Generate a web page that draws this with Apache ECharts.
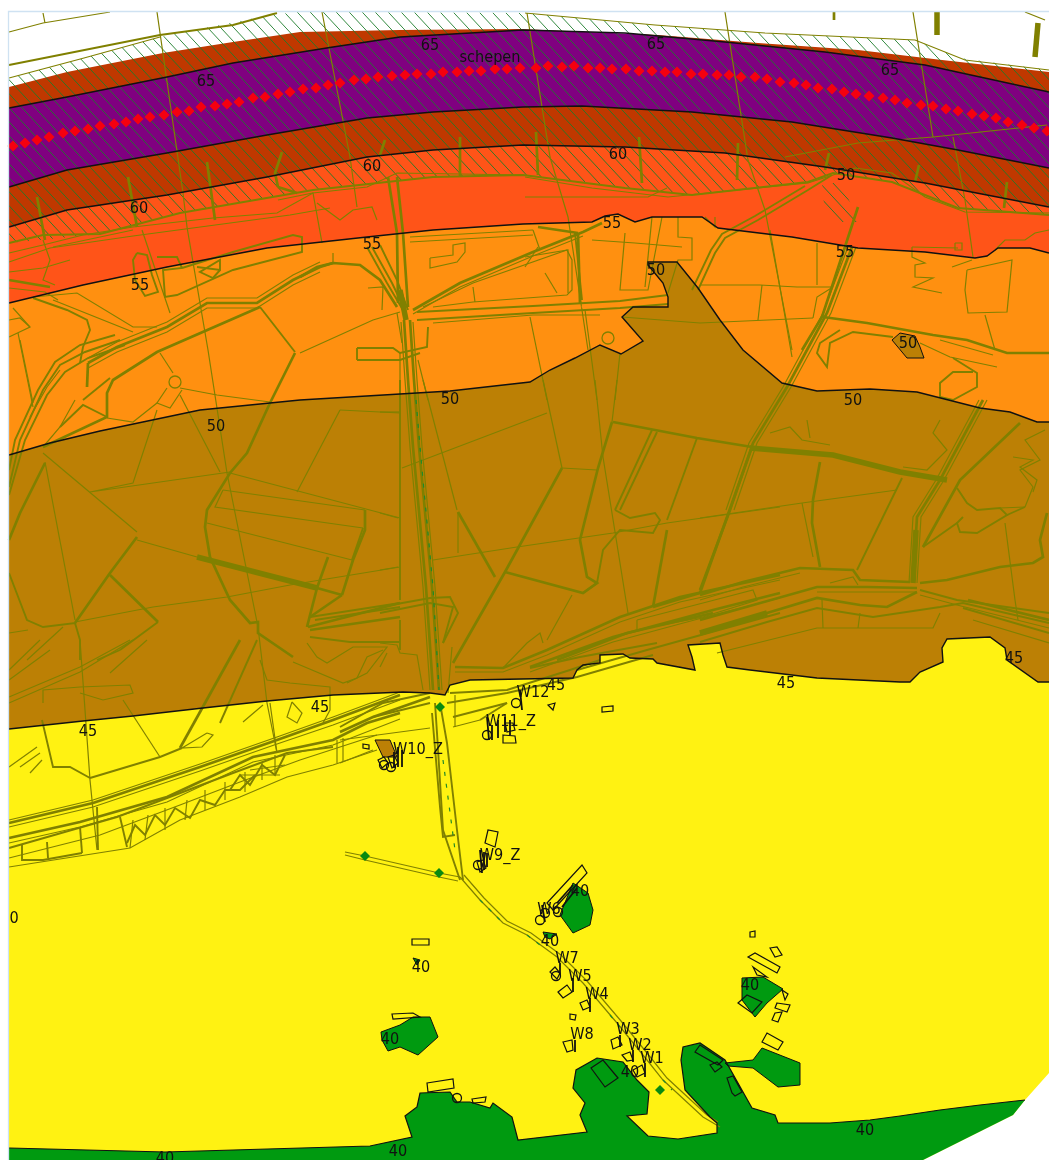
<!DOCTYPE html>
<html><head><meta charset="utf-8">
<style>html,body{margin:0;padding:0;background:#fff}#c{width:1049px;height:1160px}#c canvas{filter:blur(0.3px)}</style>
<script src="https://cdn.jsdelivr.net/npm/echarts@6/dist/echarts.min.js"></script>
</head><body><div id="c"></div>
<script>
// ---- noise contours, in map coordinates (flat x,y lists) ----
const mapFrame=[9,12,1049,12,1049,1073,1025,1100,1013,1115,983,1130,923,1160,9,1160];
const contourEdge=[9,87,67,72,163,53,233,42,300,32,400,30,520,29,658,35,758,43,858,50,942,60,1049,72];
const contour65a=[9,108,67,97,167,77,233,63,333,47,400,37,523,30,625,33,725,42,825,52,925,65,1049,92];
const contour65b=[9,187,67,170,167,153,267,135,367,118,433,112,523,107,582,106,692,112,792,122,892,138,958,150,1049,168];
const contour60=[9,227,67,210,167,195,267,177,367,157,433,150,523,145,625,147,725,153,825,167,925,183,1049,207];
const contour55=[9,303,83,285,167,267,267,248,367,237,433,230,523,224,592,222,605,216,618,214,635,222,652,217,702,217,718,228,792,237,858,248,925,252,975,258,987,256,998,248,1030,248,1049,253];
const contour50=[9,455,50,443,100,431,200,410,300,400,400,394,450,391,530,382,550,370,575,358,600,345,621,354,643,341,622,317,633,307,668,307,668,297,663,283,648,265,648,262,677,262,698,288,720,320,743,350,782,383,817,391,870,389,917,392,980,408,1010,412,1037,422,1049,422];
const contour45=[9,729,83,721,133,716,203,708,267,701,333,695,380,693,403,692,430,693,445,695,450,685,470,680,573,678,577,670,583,665,600,663,600,655,623,654,630,658,653,659,657,663,695,670,692,657,688,645,720,643,723,655,727,667,750,670,817,678,900,682,910,682,920,672,943,662,942,648,947,639,990,637,1005,648,1007,660,1038,682,1049,682];
const island50=[892,340,900,333,915,336,920,347,924,358,907,358];
const island45=[375,740,390,740,397,757,383,757];
const green40South=[9,1148,165,1152,370,1146,412,1137,405,1116,417,1107,420,1093,450,1092,457,1102,470,1102,490,1108,493,1103,512,1117,518,1140,587,1132,580,1115,585,1103,573,1088,576,1070,597,1058,623,1062,637,1080,649,1092,647,1114,627,1116,648,1136,678,1139,717,1133,717,1123,710,1117,685,1090,681,1060,683,1047,700,1043,725,1060,752,1108,775,1115,778,1123,830,1123,870,1120,900,1116,940,1110,980,1105,1025,1100,1013,1115,983,1130,923,1160,9,1160];
const green40Blobs=[
 [725,1063,753,1060,762,1048,800,1063,800,1085,778,1087,753,1068,728,1066],
 [560,915,573,883,588,893,593,910,590,925,573,933],
 [543,932,557,934,550,939,545,937],
 [413,958,420,960,417,965],
 [381,1032,400,1025,413,1017,430,1017,438,1037,418,1055,400,1047,388,1051,382,1040],
 [742,978,763,977,783,989,767,1003,755,1017,742,1000]
];
const hatchZone=[
 [9,78,84,58,160,37,270,15,300,12,525,13,655,25,765,33,915,40,960,58,1049,70,1049,215,958,208,892,182,833,173,808,182,692,195,625,188,523,175,433,177,313,190,180,213,100,234,9,243],
 [822,183,842,183,858,222,832,222,825,215]
];
// ---- shipping route ----
const shipX=[13,25,37,49,63,75,88,100,114,126,138,150,164,177,189,201,215,227,239,253,265,278,290,303,316,328,340,354,366,378,392,405,417,431,443,457,469,481,495,507,520,536,548,562,574,588,600,612,626,639,652,665,677,691,703,717,729,741,755,767,780,794,806,818,832,844,856,869,883,895,907,921,933,946,958,972,984,996,1008,1022,1034,1047];
const shipY=[146,143,140,137,133,131,129,126,124,122,119,117,115,112,111,107,106,104,102,98,97,94,92,89,88,85,83,80,79,77,76,75,74,74,72,72,71,71,69,69,68,68,66,67,66,68,68,69,69,71,71,72,72,74,74,75,75,77,77,79,82,83,85,88,89,92,94,96,98,100,103,105,106,109,111,114,116,118,122,125,128,131];
const siteX=[365,439,440,660];
const siteY=[856,873,707,1090];
// ---- road and ditch network ----
const roadsThin=[
 [9,32,43,23,110,12],[43,13,45,23],[9,78,84,58,160,37],[525,13,655,25,765,33,915,40,965,60,1049,70],
 [157,12,183,193,187,227,208,350,227,473,258,627,267,703,277,753],[322,12,350,157,357,207],[142,230,170,313],
 [725,12,748,160,765,210,792,350],[913,12,933,137],[953,137,965,200,973,257],[527,13,550,157,568,217,588,350],
 [785,157,858,143,933,137,1047,125],[278,200,313,193,322,243],[317,203,340,220,353,210,372,207,377,220],
 [43,240,50,260,43,280,55,285],[9,262,50,248,133,236,290,215,330,208],[525,177,592,188,668,197,738,190,808,183,855,168,892,173,925,197,965,212,1049,213],
 [525,197,608,197,648,197,667,188],[9,253,43,245,83,235,133,227,213,218,277,213,313,193,367,187,397,173,523,175],
 [53,247,133,230],[18,333,33,407],[13,308,30,327,9,337],[33,297,77,293,133,327,157,327],[53,300,133,332],
 [160,353,173,373],[180,388,217,395,270,402],[180,395,220,472],[167,388,157,403,170,408,182,390],[157,403,133,422,107,418],[157,410,133,483,90,492,230,472],
 [230,473,400,518],[43,453,137,532],[137,540,197,557],[223,490,215,507,363,528],[223,490,365,510],[207,523,352,560],[340,410,297,492],[340,410,400,413],
 [45,462,75,620],[75,622,153,607,227,597,290,585,400,567],[9,633,28,630],[27,660,63,627],[20,340,33,403],[80,640,90,780,97,850],[123,700,160,757],[270,703,277,753],
 [292,702,302,713,297,723,287,717,292,702],[243,722,263,705,250,716,243,722],[207,733,213,735,202,747,182,748,207,733],
 [9,767,37,747],[20,767,40,753],[30,773,42,760],[9,867,130,848,180,820,240,797,287,777,333,765,377,750],[337,740,337,763],[343,738,343,762],
 [340,740,430,728],[340,763,373,750],[453,727,480,720],[455,695,455,727],
 [260,660,267,680,290,683,330,687,330,710,323,723],[293,662,343,683,357,678,367,657,383,650],
 [333,253,333,263],[368,288,383,287,382,310],[300,353,373,320,400,312],[397,313,402,343],[400,353,400,400],[418,360,428,400],[530,317,547,400],[585,310,597,400],[620,353,615,400],
 [430,258,453,255,453,245,465,243,465,252,457,262,430,268,430,258],[433,323,533,315,600,315],[423,307,473,283,567,250,572,260,572,290,567,295,473,302,433,307],[473,287,475,302],[540,250,533,230],[410,237,533,230],[410,242,533,235],
 [625,233,620,290,648,290,662,217],[652,217,645,287],[678,217,678,237,692,238,692,260,678,260,668,293],[635,243,682,247],[592,240,635,243],[705,217,715,227,715,217],[525,267,538,247],[525,257,568,250,568,293],[545,273,557,293],
 [912,247,912,257,925,263,915,265,915,277,933,278,913,287,942,293],[912,247,958,248],[955,243,962,243,962,250,955,250,955,243],[967,270,1012,260,1007,312,968,313,965,290,967,270],[952,267,972,260],[995,250,1005,240,1025,240,1035,233,1049,230],[985,315,995,350],
 [622,317,700,323,813,318],[700,285,760,285,797,287,833,287],[770,230,792,357],[762,285,758,320],[817,285,817,243],[813,318,817,297,833,287],[920,343,950,357,997,367],[940,340,993,355],
 [380,412,400,412],[402,468,547,413],[423,380,457,510],[458,512,458,553],[543,380,562,468],[562,468,597,470],[595,380,603,457,628,613],[617,380,612,422],[433,560,517,547,613,533,667,523,780,507],[380,513,398,518],[380,570,398,567],[572,595,547,640],[503,668,527,643,540,633,543,643],
 [700,518,802,503,897,490],[802,503,813,557],[770,433,790,427,802,440,830,445],[807,420,810,438],[940,420,933,433,947,450,927,470,903,467],[717,653,817,628,933,628,940,613],[822,600,823,628],[860,613,858,628],[830,583,853,577,858,585],[973,620,1049,643],
 [1005,523,1015,600,1018,620],[1025,507,1033,487,1020,470,1040,460,1025,440,1045,430],[1000,508,1025,507],[637,620,637,630,703,617,757,600,753,590,703,603,637,620],
 [460,877,480,900,503,923,527,935,557,957,583,983,617,1023,647,1060,663,1080,703,1117,720,1127],[464,875,484,898,507,921,531,933,561,955,587,981,621,1021,651,1058,667,1078,707,1115,718,1122],
 [345,852,365,856,439,873,460,877],[345,855,365,860,439,877,458,881],[1025,12,1045,20],
 [401,322,405,380,410,447,423,587,430,690],[413,322,417,380,422,447,435,587,442,690],
 [9,820,93,800,200,764,277,737,333,717,400,692],[9,827,93,807,200,771,277,744,333,725,400,700],[9,843,80,827,167,802,253,762,333,745,400,719],[9,858,100,835,180,805,240,782,300,760,377,735],
 [130,848,133,820],[145,840,148,815],[165,830,165,808],[185,820,187,800],[205,810,205,790],[225,800,225,782],[245,792,245,772],[262,780,262,762],[275,775,275,755],[240,775,280,775],[250,770,285,765],
 [455,672,503,672,547,655,620,622,680,602,780,580],[530,672,613,642,713,615,780,598],[700,600,743,587,800,573],[817,592,867,592,917,592],[920,595,957,605,1049,628],
 [848,247,823,313,783,387,749,443,726,510],[856,247,831,313,791,387,757,443,734,510],[987,400,944,480,921,517,917,583],[979,400,936,480,913,517,909,583],
 [413,314,460,287,533,256,583,236],[320,262,293,275,257,298,207,298,167,322,117,342,88,358],[320,272,293,285,257,308,207,308,167,332,117,352,88,368],
 [9,272,43,268,70,260],[9,288,45,292,58,300],[9,320,20,318,30,327],[60,370,47,387,30,417],[75,400,60,427,43,447],
 [43,703,43,690,80,687,130,685,133,693,103,700,80,693],[9,697,80,667,130,640],[9,703,80,672,133,640],[110,673,147,640],[9,670,40,640],[9,680,50,650],
 [307,643,317,657,327,663,353,647,387,647,367,673,347,683],[380,643,397,645,400,653,417,655,423,690],[452,647,448,693],[380,667,387,653],
 [1013,457,1033,460,1020,467,1037,480,1033,492]
];
const roadsMid=[
 [9,243,43,235,100,234,180,213,313,190,433,177,523,175,625,188,692,195,808,182,833,173,892,182,958,208,1049,215],
 [9,65,160,35,233,25,277,13],[137,253,147,255,152,275,158,292,145,296,135,280,133,260,137,253],
 [157,257,177,257,182,268,163,270,165,297,177,295,233,270,302,252,302,237,293,235,233,252,182,268],[197,267,220,270,220,260,200,272,213,278,220,270],
 [33,298,67,310,87,320,90,330,83,347,80,363],[260,307,295,352],[83,400,110,378],[107,417,83,405,60,427],
 [9,487,20,440,43,390,60,365,85,352,120,340],[9,495,25,440,47,395,65,372,88,358,125,345],[9,470,15,440,38,390,55,362,80,345,115,335],
 [9,573,27,620,43,627,75,623,80,640,80,660],[363,528,352,560],[120,650,158,622],[97,660,120,650],[42,720,53,767,70,767,90,778],[90,778,160,757,182,748],[257,640,220,723],
 [22,845,22,860,43,860,82,853],[47,842,48,858],[80,827,82,853],[97,807,98,850],[120,817,127,847],[9,848,117,817,233,773,287,753,333,747],
 [127,843,135,825,145,835,155,815,165,825,175,808,190,818,200,800,215,805,225,790,240,790,255,775],[230,790,240,775,250,785,262,765,275,775,285,755],
 [340,727,383,703,430,693],[447,703,507,693,577,677,653,655],[453,717,507,703],[480,720,507,703],
 [367,247,387,283,403,310],[372,247,392,283,405,310],[380,245,397,280,408,310],[357,348,393,348,400,353,427,347,428,327],[357,360,400,360,420,353],[357,348,357,360],
 [417,312,533,306,620,301,668,295],[417,320,533,313,620,308,668,304],[698,290,715,253,725,238,758,220,808,190,832,175],[692,290,711,250,722,234,755,216,805,186],
 [840,330,820,343,817,353,827,367,830,343,853,332,893,337],[953,358,977,373,977,387,953,400,940,397,940,383,953,372,973,372],
 [902,478,857,570],[957,488,967,503,977,510,1000,508,1007,515,977,533,960,532,957,523,963,517],[923,547,957,523],[1007,515,1025,507],
 [400,380,400,600],[400,620,400,650],[380,607,430,598,450,597,458,613,443,643],[380,613,430,603,453,607,443,643],[310,617,400,603],[315,620,400,607],[310,637,350,642,400,642],
 [615,510,652,430],[620,510,657,432],[583,593,597,583,603,550,620,530,653,533,660,520,655,513,630,518,615,510],[667,520,697,438],[530,668,580,657,657,643],[577,670,647,650,780,613],
 [700,642,767,622,817,608,873,617,940,607,963,603,1049,623],[920,590,957,600,1049,613],[963,608,1049,633],[373,717,430,703],[450,693,507,690,570,670,600,660],
 [463,880,457,830,447,743,440,703],[435,703,437,733,443,830,460,880],[432,713,440,807,443,837,455,835],[575,233,582,300]
];
const roadsWide=[
 [37,197,45,240],[128,177,137,227],[207,162,215,220],[282,152,275,173,278,187],[278,187,297,193],[385,140,380,155],[460,137,460,177],[536,132,538,175],[639,137,642,183],[738,143,737,180],[829,153,825,170],[919,165,915,182],[1007,182,1004,208],
 [320,267,293,280,257,303,207,303,167,327,117,347,88,363],[88,363,87,387],[260,307,157,352,113,380,107,393,107,417,43,447],[320,267,333,263,360,265,380,280,397,307],
 [295,353,270,403,247,453,230,473,207,510,205,527,210,557,230,600,250,623,258,622,258,633,293,657],
 [9,280,50,287],[317,588,328,557],[317,588,307,627],[365,510,365,530,353,560,342,595],[317,588,342,595],[342,595,310,617],
 [45,463,20,513,9,540],[137,537,110,573,75,623],[110,575,158,622],[240,640,180,748],
 [388,177,397,233,398,303],[397,177,403,233,408,307],[410,320,414,380,419,447,432,587,439,690],[404,320,408,380,413,447,426,587,433,690],
 [340,732,373,717,430,697],[9,823,93,803,200,767,277,740,333,720,400,695],[9,838,80,822,167,797,253,757,333,740,367,723,400,713],[310,630,400,617],
 [300,277,317,267,333,263],[413,310,460,283,533,252,583,232,602,223],[578,233,580,303],[538,227,578,233],[858,207,822,317,802,350],[852,247,827,313,787,387,753,443,730,510,700,590],
 [823,317,867,323,933,335,967,340,1007,353,1049,353],[983,400,940,480,917,517,913,583],[1020,423,960,480,923,547],[1047,513,1040,540,1043,557,1033,563,1000,567,947,580,920,583],
 [613,422,697,438,752,447],[820,462,813,500,812,523,820,567],[562,468,505,572,453,663],[458,512,495,577],[505,572,583,593,597,583,587,577,580,540,598,468,612,422],[653,607,667,530],[700,593,653,607],[752,447,700,593],
 [455,667,503,668,547,650,620,617,680,597,780,575],[530,667,613,637,713,610,780,593],[557,660,627,633,713,613],[700,595,743,582,800,568,853,570,860,580,910,582],[700,620,817,587,867,587,917,588],[700,633,767,613,817,598,860,605,887,607,917,592],
 [308,627,400,603],[834,12,834,20],[968,600,1049,620]
];
const roadsHeavy=[
 [197,557,317,588],[750,448,833,455,900,472,947,480],[937,12,937,35],[1038,23,1035,57],[916,530,913,583],[700,633,767,613],[400,290,406,320]
];
const ladderOrange=[[417,316,533,309.5,620,304.5,668,299.5]];
const ladderGreen=[[416,400,420,447,433,587,439,690],[443,760,455,850],[480,900,503,923],[527,935,540,945],[610,1015,620,1027],[663,1080,672,1090]];
// ---- buildings ----
const buildings=[
 [547,903,582,865,587,873,553,910],[412,939,429,939,429,945,412,945],[750,932,755,931,755,937,750,937],[748,957,755,953,780,967,777,973],[770,948,777,947,782,955,775,957],[753,967,767,977,757,975],
 [738,1003,752,1013,762,1002,747,995],[775,1013,782,1012,778,1022,772,1020],[777,1003,790,1005,787,1012,775,1008],[782,990,788,994,785,1000],[762,1042,767,1033,783,1042,778,1050],
 [392,1014,413,1013,420,1017,393,1019],[427,1083,453,1079,454,1088,428,1092],[472,1099,486,1097,485,1102,473,1103],[591,1068,603,1060,618,1078,605,1087],[695,1052,700,1045,723,1060,718,1065],[710,1065,717,1062,722,1067,715,1072],[727,1078,733,1076,742,1092,735,1096,732,1093],
 [485,843,488,830,498,832,495,847],[363,744,369,745,369,749,363,748],[548,705,555,703,553,710],[602,707,613,706,613,711,602,712],
 [503,735,515,736,516,743,503,743],[505,723,513,723,515,730,507,732],[550,972,555,967,560,973,557,979],[558,992,567,985,572,992,563,998],[580,1003,587,1000,590,1007,583,1010],[563,1042,572,1040,573,1050,567,1052],[570,1014,576,1015,575,1020,570,1019],[611,1040,618,1037,622,1045,613,1049],[622,1055,630,1052,633,1060,627,1061],[633,1070,642,1065,645,1073,637,1077],
 [378,760,384,757,388,763,382,768],[388,757,394,755,398,763,392,768],[477,862,483,860,486,868,480,872]
];
const receiverTicks=[
 [520,690,522,710],[487,717,489,740],[492,725,492,740],[498,720,498,738],[505,717,505,732],[510,720,510,735],[398,747,398,767],[402,750,402,767],[394,752,394,768],[480,850,482,873],[487,853,487,867],[484,852,484,870],[542,905,545,922],
 [560,963,560,975],[573,978,573,992],[590,998,590,1012],[575,1040,575,1052],[620,1035,620,1047],[633,1050,633,1062],[645,1063,645,1077],[557,903,573,885],[562,907,577,888]
];
const circleX=[516,487,457,558,540,478,608,175,384,391,545,556];
const circleY=[703,735,1098,912,920,865,338,382,765,767,913,976];
const circleColor=['k','k','k','k','k','k','o','o','k','k','k','k'];
// ---- labels ----
const labelText=['65','65','65','65','schepen','60','60','60','50','55','55','55','55','50','50','50','50','50','45','45','45','45','45','0','40','40','40','40','40','40','40','40','40','W12','W11_Z','W10_Z','W9_Z','W6','W7','W5','W4','W8','W3','W2','W1'];
const labelX=[206,430,656,890,490,139,372,618,846,612,140,372,845,656,908,450,216,853,1014,786,320,88,556,14,580,550,421,750,390,630,865,398,165,533,511,418,500,549,567,580,597,582,628,640,652];
const labelY=[82,46,45,71,58,209,167,155,176,224,286,245,253,271,344,400,427,401,659,684,708,732,686,919,892,942,968,986,1040,1073,1131,1152,1159,693,722,750,856,910,959,977,995,1035,1030,1046,1059];

const pairs=f=>{const o=[];for(let i=0;i<f.length;i+=2)o.push([f[i],f[i+1]]);return o;};
const rev=f=>{const o=[];for(let i=f.length-2;i>=0;i-=2)o.push(f[i],f[i+1]);return o;};
const hatchTile=document.createElement('canvas');hatchTile.width=13;hatchTile.height=14;
(function(){const g=hatchTile.getContext('2d');g.strokeStyle='#1c7d2a';g.lineWidth=0.9;g.beginPath();g.moveTo(-2,-2.15);g.lineTo(15,16.15);g.stroke();})();

const base={type:'custom',coordinateSystem:'cartesian2d',clip:false,silent:true,animation:false};
function shapes(name,list,style,closed,z){
 return Object.assign({},base,{name,z,data:list.map((p,i)=>[p[0],p[1],i]),encode:{x:0,y:1},
  renderItem(params,api){
   const pts=pairs(list[api.value(2)]).map(p=>api.coord(p));
   return {type:closed?'polygon':'polyline',shape:{points:pts},style:Object.assign({fill:closed?style.fill:null},style)};
  }});
}
const mapTop=[1049,12,9,12];
const series=[
 shapes('base',[mapFrame],{fill:'#FFF212'},true,1),
 shapes('40 dB',[green40South],{fill:'#009A10'},true,2),
 shapes('40 dB blobs',green40Blobs,{fill:'#009A10',stroke:'#111',lineWidth:1},true,2),
 shapes('45 dB',[contour45.concat(mapTop)],{fill:'#BC8005'},true,3),
 shapes('45 dB island',[island45],{fill:'#BC8005',stroke:'#111',lineWidth:1},true,3),
 shapes('50 dB',[contour50.concat(mapTop)],{fill:'#FF9010'},true,4),
 shapes('50 dB island',[island50],{fill:'#BC8005',stroke:'#111',lineWidth:1},true,12),
 shapes('55 dB',[contour55.concat(mapTop)],{fill:'#FF5418'},true,5),
 shapes('60 dB',[contour60.concat(mapTop)],{fill:'#C03800'},true,6),
 shapes('65 dB',[contour65a.concat(rev(contour65b))],{fill:'#800080'},true,7),
 shapes('outside',[contourEdge.concat(mapTop)],{fill:'#fff'},true,8),
 shapes('hatch',hatchZone,{fill:{image:hatchTile,repeat:'repeat'}},true,9),
 shapes('roads thin',roadsThin,{stroke:'#808000',lineWidth:1.2},false,10),
 shapes('roads mid',roadsMid,{stroke:'#808000',lineWidth:1.9},false,10),
 shapes('roads wide',roadsWide,{stroke:'#808000',lineWidth:2.7},false,10),
 shapes('roads heavy',roadsHeavy,{stroke:'#808000',lineWidth:5.5},false,10),
 shapes('road ladder',ladderOrange,{stroke:'#FF9010',lineWidth:2,lineDash:[7,4]},false,11),
 shapes('road green',ladderGreen,{stroke:'#1f8a2a',lineWidth:1.2,lineDash:[4,8]},false,11),
 shapes('contours',[contour65a,contour65b,contour60,contour55,contour50,contour45],{stroke:'#111',lineWidth:1.4},false,12),
 shapes('contour 40',[green40South.slice(0,green40South.length-8)],{stroke:'#111',lineWidth:1.2},false,12),
 shapes('buildings',buildings,{fill:null,stroke:'#111',lineWidth:1.2},true,13),
 shapes('receivers',receiverTicks,{stroke:'#111',lineWidth:1.8},false,13),
 Object.assign({},base,{name:'rings',z:13,data:circleX.map((x,i)=>[x,circleY[i],i]),encode:{x:0,y:1},
  renderItem(params,api){const c=api.coord([api.value(0),api.value(1)]);const k=circleColor[api.value(2)]==='k';
   return {type:'circle',shape:{cx:c[0],cy:c[1],r:k?4.5:6},style:{fill:null,stroke:k?'#111':'#808000',lineWidth:1.3}};}}),
 {type:'scatter',name:'schepen',z:14,silent:true,animation:false,symbol:'diamond',symbolSize:11,itemStyle:{color:'#F5000F',opacity:1},data:shipX.map((x,i)=>[x,shipY[i]])},
 {type:'scatter',name:'bronnen',z:14,silent:true,animation:false,symbol:'diamond',symbolSize:10,itemStyle:{color:'#0A8A10',opacity:1},data:siteX.map((x,i)=>[x,siteY[i]])},
 Object.assign({},base,{name:'labels',z:20,data:labelText.map((t,i)=>[labelX[i],labelY[i],i]),encode:{x:0,y:1},
  renderItem(params,api){const c=api.coord([api.value(0),api.value(1)]);
   return {type:'text',x:c[0],y:c[1],scaleY:1.15,style:{text:labelText[api.value(2)],fill:'#111',font:'14.5px "DejaVu Sans"',align:'center',verticalAlign:'middle'}};}}),
 shapes('frame',[[8.5,1160,8.5,11.5,1049,11.5]],{stroke:'#CFE2F2',lineWidth:1.3},false,21)
];
const chart=echarts.init(document.getElementById('c'),null,{renderer:'canvas'});
chart.setOption({animation:false,backgroundColor:'#fff',
 grid:{left:0,right:0,top:0,bottom:0},
 xAxis:{type:'value',min:0,max:1049,show:false},
 yAxis:{type:'value',min:0,max:1160,inverse:true,show:false},
 series});
</script></body></html>
